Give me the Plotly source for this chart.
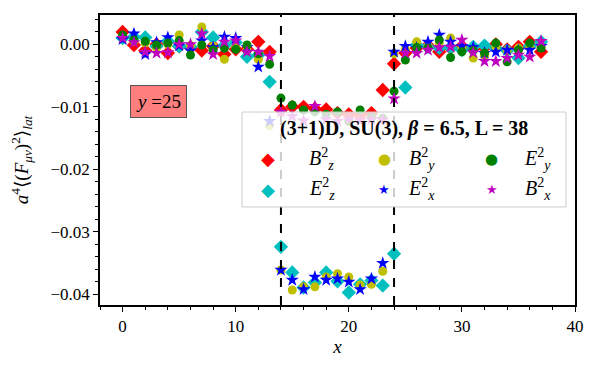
import plotly.graph_objects as go

x = list(range(38))

# valores (en unidades de 1e-3)
Bz = [2.0, -0.1, -1.0, 0.0, -1.4, -0.3, -0.5, -1.0, -0.3, -1.6, -0.8, -0.8, 0.4, -1.2,
      -10.5, -10.0, -10.0, -10.3, -10.4, -11.0, -11.2, -11.3, -11.0, -7.3,
      -3.1, -1.4, -0.6, -0.2, -1.2, -0.6, -0.3, -0.7, -0.5, 0.0, -0.8, -0.4, 0.4, -1.2]
Ez = [1.0, 1.2, 1.1, -0.3, 0.5, -0.3, -0.4, 2.0, 1.1, -0.2, 0.3, -2.0, -1.7, -6.0,
      -32.4, -36.5, -38.9, -38.1, -36.5, -37.9, -39.7, -38.4, -37.8, -38.6,
      -33.5, -6.9, -0.1, -0.4, -0.6, -0.5, -0.9, -0.4, -0.2, -0.6, -1.0, -2.2, -0.3, 0.4]
By = [1.3, 0.5, 0.2, -0.5, 0.0, 1.5, -0.2, 2.8, -0.3, -2.4, -0.5, -0.9, -2.4, -13.0,
      -36.1, -39.3, -38.8, -38.8, -37.2, -36.7, -37.2, -38.5, -38.4, -36.3,
      -1.5, -0.8, 0.4, -0.3, 0.2, 1.0, -0.5, -2.2, -1.8, -0.4, -1.0, -0.6, -0.5, -0.3]
Ex = [0.8, 1.7, -1.6, 0.3, 1.1, -0.2, -1.0, 0.6, -0.5, 1.2, 1.0, -0.5, -3.6, -12.3,
      -36.1, -37.7, -39.2, -37.2, -37.7, -37.5, -38.0, -39.2, -37.5, -35.0,
      -1.2, -0.3, -0.6, 0.4, 1.5, 0.4, -0.3, -0.5, -1.4, -1.2, -0.9, -1.0, -0.9, -0.3]
Ey = [1.5, 0.7, 0.5, -0.1, 0.2, 0.6, -1.7, -0.1, -0.9, -0.6, -0.8, -0.1, -1.5, -3.2,
      -8.6, -9.7, -10.5, -10.8, -11.2, -10.8, -12.3, -10.5, -11.7, -11.8,
      -7.5, -2.5, -0.5, -0.6, 0.7, -2.1, -1.2, -1.0, -1.4, 0.2, -2.8, -0.9, 0.2, -0.6]
Bx = [1.0, 0.3, -1.2, -1.4, -1.3, 0.0, 0.0, 1.7, -1.6, 0.4, 0.6, -1.2, -1.2, -1.9,
      -10.8, -11.5, -12.2, -9.9, -12.0, -12.3, -12.0, -12.2, -12.0, -12.1,
      -8.7, -1.4, -1.4, -0.9, -0.5, -0.4, 0.7, -1.3, -2.7, -2.7, -2.2, -1.7, -2.0, 0.5]

bordes = [14, 24]

# (etiqueta, datos, color, símbolo, tamaño, glifo de leyenda, fila, columna)
series = [
    ("<i>B</i><sup>2</sup><sub><i>z</i></sub>", Bz, "#FF0000", "diamond", 11, "◆", 0, 0),
    ("<i>E</i><sup>2</sup><sub><i>z</i></sub>", Ez, "#00BFBF", "diamond", 11, "◆", 1, 0),
    ("<i>B</i><sup>2</sup><sub><i>y</i></sub>", By, "#BFBF00", "circle", 9, "●", 0, 1),
    ("<i>E</i><sup>2</sup><sub><i>x</i></sub>", Ex, "#0000FF", "star", 10, "★", 1, 1),
    ("<i>E</i><sup>2</sup><sub><i>y</i></sub>", Ey, "#008000", "circle", 9, "●", 0, 2),
    ("<i>B</i><sup>2</sup><sub><i>x</i></sub>", Bx, "#BF00BF", "star", 10, "★", 1, 2),
]

fig = go.Figure()
for nombre, vals, color, simb, tam, glifo, fila, col in series:
    fig.add_trace(go.Scatter(
        x=x, y=[v * 1e-3 for v in vals], mode="markers", name=nombre,
        showlegend=False,
        marker=dict(color=color, symbol=simb, size=tam, line=dict(width=0))
    ))

for xb in bordes:
    fig.add_vline(x=xb, line=dict(color="black", dash="dash", width=2))

fig.add_annotation(
    x=3.2, y=-0.0091, xref="x", yref="y", showarrow=False,
    text="<i>y</i> =25", font=dict(size=19, color="black"),
    bgcolor="rgba(255,0,0,0.5)", bordercolor="#555555", borderwidth=1, borderpad=5
)

# leyenda dibujada a mano (3 columnas, como en matplotlib)
fig.add_shape(type="rect", xref="paper", yref="paper", layer="above",
              x0=0.299, x1=0.981, y0=0.338, y1=0.6655,
              fillcolor="rgba(255,255,255,0.8)", line=dict(color="#cccccc", width=1))
fig.add_annotation(xref="paper", yref="paper", x=0.640, y=0.608, showarrow=False,
                   text="<b>(3+1)D, SU(3), </b><b><i>β</i></b><b> = 6.5, L = 38</b>",
                   font=dict(size=20))
col_sim = [0.354, 0.598, 0.842]
col_txt = [0.467, 0.709, 0.954]
fila_y = [0.505, 0.400]
tam_glifo = {"◆": 18, "●": 15, "★": 13}
for nombre, vals, color, simb, tam, glifo, fila, col in series:
    fig.add_annotation(xref="paper", yref="paper", x=col_sim[col], y=fila_y[fila],
                       showarrow=False, text=glifo,
                       font=dict(size=tam_glifo[glifo], color=color, family="DejaVu Sans"))
    fig.add_annotation(xref="paper", yref="paper", x=col_txt[col], y=fila_y[fila],
                       showarrow=False, text=nombre, font=dict(size=20))

eje = dict(
    showline=True, linecolor="black", linewidth=1.5, mirror=True,
    ticks="outside", ticklen=5, tickcolor="black", showgrid=False, zeroline=False,
    minor=dict(ticks="outside", ticklen=3, tickcolor="black"),
    tickfont=dict(size=17), automargin=False
)

fig.update_layout(
    width=600, height=370,
    margin=dict(l=92, r=33, t=7, b=73),
    plot_bgcolor="white", paper_bgcolor="white",
    font=dict(family="Liberation Serif, DejaVu Serif, serif", color="black"),
    xaxis=dict(eje, range=[-2, 40], dtick=10, minor=dict(eje["minor"], dtick=2),
               title=dict(text="<i>x</i>", font=dict(size=19), standoff=2)),
    yaxis=dict(eje, range=[-0.0417, 0.0047], dtick=0.01, tickformat=".2f",
               minor=dict(eje["minor"], dtick=0.002),
               title=dict(text="<i>a</i><sup>4</sup>⟨(<i>F</i><sub><i>μν</i></sub>)<sup>2</sup>⟩<sub><i>lat</i></sub>",
                          font=dict(size=19), standoff=19)),
    showlegend=False,
)

fig.write_html("out.html")
